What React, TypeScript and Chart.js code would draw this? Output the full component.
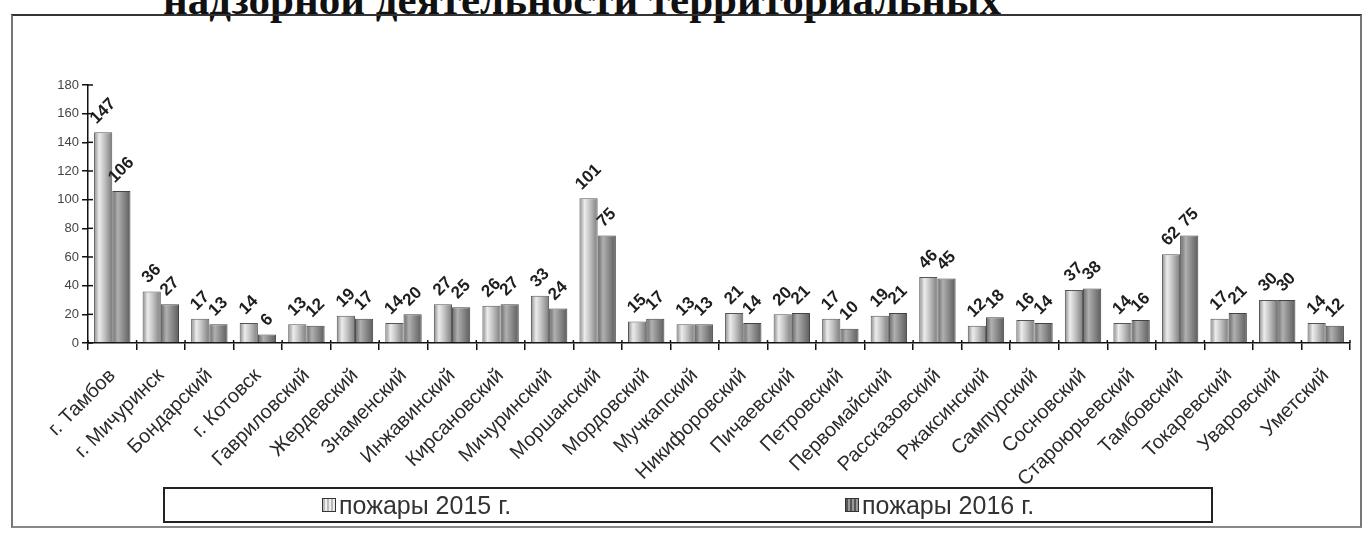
import React, { useEffect, useRef } from "react";
import { Chart, registerables } from "chart.js";

Chart.register(...registerables);

const categories = [
  "г. Тамбов", "г. Мичуринск", "Бондарский", "г. Котовск", "Гавриловский",
  "Жердевский", "Знаменский", "Инжавинский", "Кирсановский", "Мичуринский",
  "Моршанский", "Мордовский", "Мучкапский", "Никифоровский", "Пичаевский",
  "Петровский", "Первомайский", "Рассказовский", "Ржаксинский", "Сампурский",
  "Сосновский", "Староюрьевский", "Тамбовский", "Токаревский", "Уваровский",
  "Уметский",
];
const fires2015 = [147, 36, 17, 14, 13, 19, 14, 27, 26, 33, 101, 15, 13, 21, 20, 17, 19, 46, 12, 16, 37, 14, 62, 17, 30, 14];
const fires2016 = [106, 27, 13, 6, 12, 17, 20, 25, 27, 24, 75, 17, 13, 14, 21, 10, 21, 45, 18, 14, 38, 16, 75, 21, 30, 12];
const seriesNames = ["пожары 2015 г.", "пожары 2016 г."];
const yMax = 180;
const yStep = 20;
const titleText = "надзорной деятельности территориальных";

const CAT_PCT = 0.75;

function barFill(c: any, dark: boolean) {
  const flat = dark ? "#8a8a8a" : "#c4c4c4";
  const chart = c.chart;
  const xs = chart.scales && chart.scales.x;
  if (!xs || !chart.chartArea || c.type !== "data" || !xs.width) return flat;
  const catW = xs.width / categories.length;
  const bw = (catW * CAT_PCT) / 2;
  const cx = xs.getPixelForValue(c.dataIndex);
  const left = c.datasetIndex === 0 ? cx - bw : cx;
  const g = chart.ctx.createLinearGradient(left, 0, left + bw, 0);
  if (!dark) {
    g.addColorStop(0, "#8a8a8a");
    g.addColorStop(0.28, "#ececec");
    g.addColorStop(0.55, "#c6c6c6");
    g.addColorStop(1, "#7c7c7c");
  } else {
    g.addColorStop(0, "#666666");
    g.addColorStop(0.3, "#b0b0b0");
    g.addColorStop(0.6, "#8c8c8c");
    g.addColorStop(1, "#5c5c5c");
  }
  return g;
}

const valueLabels = {
  id: "valueLabels",
  afterDatasetsDraw(chart: any) {
    const ctx = chart.ctx;
    ctx.save();
    ctx.font = "bold 17px Arial, 'Liberation Sans', sans-serif";
    ctx.fillStyle = "#1e1e1e";
    ctx.textAlign = "center";
    ctx.textBaseline = "middle";
    chart.data.datasets.forEach((ds: any, di: number) => {
      const meta = chart.getDatasetMeta(di);
      meta.data.forEach((el: any, i: number) => {
        const txt = String(ds.data[i]);
        const w = ctx.measureText(txt).width;
        const off = (w * 0.7071) / 2 + 11;
        ctx.save();
        ctx.translate(el.x, el.y - off);
        ctx.rotate(-Math.PI / 4);
        ctx.fillText(txt, 0, 0);
        ctx.restore();
      });
    });
    ctx.restore();
  },
};

const crossTicks = {
  id: "crossTicks",
  afterDraw(chart: any) {
    const ctx = chart.ctx;
    const ys = chart.scales.y;
    const xs = chart.scales.x;
    ctx.save();
    ctx.strokeStyle = "#111";
    ctx.lineWidth = 1.5;
    ys.ticks.forEach((t: any) => {
      const py = ys.getPixelForValue(t.value);
      ctx.beginPath();
      ctx.moveTo(ys.right, py);
      ctx.lineTo(ys.right + 5, py);
      ctx.stroke();
    });
    const n = categories.length;
    const catW = xs.width / n;
    for (let i = 0; i <= n; i++) {
      const px = xs.left + catW * i;
      ctx.beginPath();
      ctx.moveTo(px, xs.top);
      ctx.lineTo(px, xs.top - 3);
      ctx.stroke();
    }
    ctx.restore();
  },
};

function ChartCanvas() {
  const ref = useRef<HTMLCanvasElement | null>(null);
  useEffect(() => {
    if (!ref.current) return;
    const chart = new Chart(ref.current, {
      type: "bar",
      data: {
        labels: categories,
        datasets: [
          {
            label: seriesNames[0],
            data: fires2015,
            backgroundColor: (c: any) => barFill(c, false),
            borderColor: "#555",
            borderWidth: 1,
            categoryPercentage: CAT_PCT,
            barPercentage: 1,
          },
          {
            label: seriesNames[1],
            data: fires2016,
            backgroundColor: (c: any) => barFill(c, true),
            borderColor: "#444",
            borderWidth: 1,
            categoryPercentage: CAT_PCT,
            barPercentage: 1,
          },
        ],
      },
      options: {
        animation: false,
        responsive: false,
        maintainAspectRatio: false,
        layout: { padding: { left: 34, right: 8, top: 45, bottom: 4 } },
        plugins: {
          legend: { display: false },
          tooltip: { enabled: false },
        },
        scales: {
          x: {
            grid: {
              display: true,
              drawOnChartArea: false,
              drawTicks: true,
              tickLength: 7,
              color: "#111",
              lineWidth: 1.5,
              offset: true,
            },
            border: { display: true, color: "#111", width: 1.5 },
            ticks: {
              autoSkip: false,
              minRotation: 45,
              maxRotation: 45,
              padding: 14,
              color: "#2a2a2a",
              font: { family: "Arial, 'Liberation Sans', sans-serif", size: 20 },
            },
            afterFit: (s: any) => {
              s.height = 141;
            },
          },
          y: {
            min: 0,
            max: yMax,
            grid: {
              display: true,
              drawOnChartArea: false,
              drawTicks: true,
              tickLength: 6,
              color: "#111",
              lineWidth: 1.5,
            },
            border: { display: true, color: "#111", width: 1.5 },
            ticks: {
              stepSize: yStep,
              padding: 3,
              color: "#444",
              font: { family: "Arial, 'Liberation Sans', sans-serif", size: 13 },
            },
            afterFit: (s: any) => {
              s.width = 40;
            },
          },
        },
      },
      plugins: [valueLabels, crossTicks],
    });
    chart.update();
    return () => chart.destroy();
  }, []);
  return <canvas ref={ref} width={1344} height={448} style={{ position: "absolute", left: 14, top: 40, width: 1344, height: 448 }} />;
}

function LegendIcon({ dark }: { dark: boolean }) {
  const a = dark ? "#555" : "#bbb";
  const b = dark ? "#999" : "#eee";
  return (
    <span
      style={{
        display: "inline-block",
        width: 12,
        height: 12,
        border: "1px solid #333",
        background: `repeating-linear-gradient(90deg, ${a} 0px, ${a} 2px, ${b} 2px, ${b} 4px)`,
        marginRight: 3,
        verticalAlign: "middle",
        position: "relative",
        top: -2,
      }}
    />
  );
}

export default function App() {
  return (
    <div style={{ position: "fixed", left: 0, top: 0, width: 1364, height: 533, overflow: "hidden", background: "#fff" }}>
      <div
        style={{
          position: "absolute",
          left: 163,
          top: -22,
          font: "bold 43px 'Liberation Serif', 'Times New Roman', serif",
          lineHeight: "43px",
          whiteSpace: "nowrap",
          color: "#111",
        }}
      >
        {titleText}
      </div>
      <div
        style={{
          position: "absolute",
          left: 11,
          top: 14,
          width: 1351,
          height: 514,
          boxSizing: "border-box",
          borderTop: "2px solid #333",
          borderLeft: "2px solid #777",
          borderRight: "2px solid #777",
          borderBottom: "2px solid #888",
        }}
      />
      <ChartCanvas />
      <div
        style={{
          position: "absolute",
          left: 163,
          top: 487,
          width: 1050,
          height: 36,
          boxSizing: "border-box",
          border: "2px solid #222",
          fontFamily: "Arial, 'Liberation Sans', sans-serif",
          fontSize: 25,
          lineHeight: "30px",
          color: "#333",
        }}
      >
        <div style={{ position: "absolute", left: 157, top: 1, whiteSpace: "nowrap" }}>
          <LegendIcon dark={false} />
          {seriesNames[0]}
        </div>
        <div style={{ position: "absolute", left: 680, top: 1, whiteSpace: "nowrap" }}>
          <LegendIcon dark={true} />
          {seriesNames[1]}
        </div>
      </div>
    </div>
  );
}
